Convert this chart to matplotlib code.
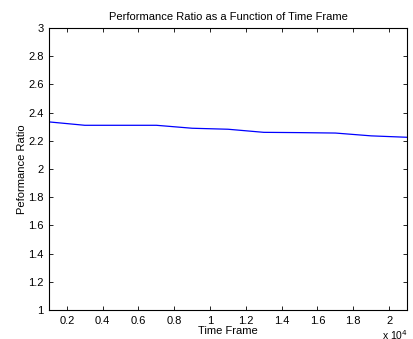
import numpy as np
import matplotlib.pyplot as plt

# time frame values and performance ratio
time_frame = [1000, 3000, 5000, 7000, 9000, 11000, 13000, 15000, 17000, 19000, 21000]
perf_ratio = [2.334, 2.31, 2.31, 2.31, 2.289, 2.282, 2.26, 2.258, 2.255, 2.235, 2.225]

xticks = [2000, 4000, 6000, 8000, 10000, 12000, 14000, 16000, 18000, 20000]
xticklabels = ['0.2', '0.4', '0.6', '0.8', '1', '1.2', '1.4', '1.6', '1.8', '2']
yticks = [1, 1.2, 1.4, 1.6, 1.8, 2, 2.2, 2.4, 2.6, 2.8, 3]
yticklabels = ['1', '1.2', '1.4', '1.6', '1.8', '2', '2.2', '2.4', '2.6', '2.8', '3']

plt.rcParams['font.family'] = ['Liberation Sans', 'DejaVu Sans']
plt.rcParams['font.size'] = 8

fig = plt.figure(figsize=(4.14, 3.39), dpi=100)
ax = fig.add_axes([49/414, 1 - 310/339, 358/414, 282/339])

ax.plot(time_frame, perf_ratio, color='#0000ff', linewidth=0.9)

ax.set_xlim(1000, 21000)
ax.set_ylim(1, 3)
ax.set_xticks(xticks)
ax.set_xticklabels(xticklabels)
ax.set_yticks(yticks)
ax.set_yticklabels(yticklabels)
ax.tick_params(direction='in', top=True, right=True, length=3, width=0.6, pad=4)
for s in ax.spines.values():
    s.set_linewidth(0.8)

ax.set_title('Performance Ratio as a Function of Time Frame', fontsize=8, pad=6)
ax.set_xlabel('Time Frame', labelpad=0)
ax.set_ylabel('Peformance Ratio', labelpad=1)
# the "x 10^4" multiplier sits below the right end of the axis, partly off the bottom edge
fig.text(408/414, 1 - 340/339, r'x 10$^4$', ha='right', va='baseline', fontsize=7.5)

fig.savefig('out.png', dpi=100)
